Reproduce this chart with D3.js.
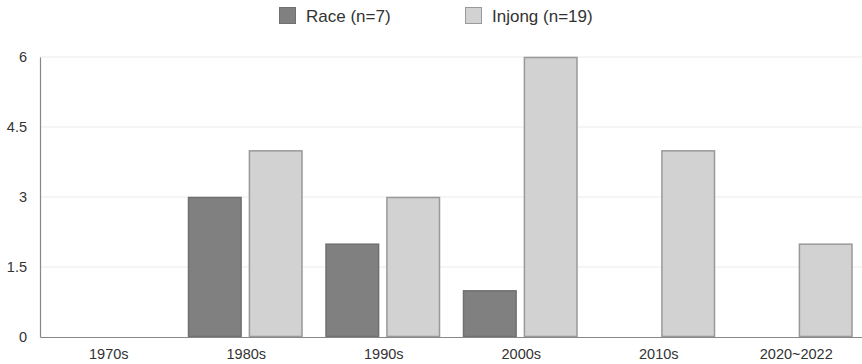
<!DOCTYPE html>
<html><head><meta charset="utf-8">
<script src="https://cdn.jsdelivr.net/npm/d3@7/dist/d3.min.js"></script>
<style>body{margin:0;background:#fff;}svg{display:block;font-family:"Liberation Sans",Arial,sans-serif;}</style>
</head><body><svg id="c" width="862" height="364"></svg>
<script>
const categories = ["1970s","1980s","1990s","2000s","2010s","2020~2022"];
const seriesNames = ["Race (n=7)","Injong (n=19)"];
const raceValues = [0,3,2,1,0,0];
const injongValues = [0,4,3,6,4,2];
const yTicks = [0,1.5,3,4.5,6];
const colors = ["#808080","#d2d2d2"];
const strokes = ["#707070","#999999"];

const svg = d3.select("#c");
const x0 = d3.scaleBand().domain(categories).range([40,865]).paddingInner(0).paddingOuter(0);
const x1 = d3.scaleBand().domain([0,1]).range([10.5, x0.bandwidth()-12.5]).paddingInner(0.12);
const y = d3.scaleLinear().domain([0,6]).range([337,57]);

// grid
svg.append("g").selectAll("line").data(yTicks.filter(d=>d>0)).join("line")
  .attr("x1",40).attr("x2",862).attr("y1",d=>y(d)).attr("y2",d=>y(d))
  .attr("stroke","#ebebeb").attr("stroke-width",1);

const series = [raceValues, injongValues];
const g = svg.append("g");
categories.forEach((c,i)=>{
  series.forEach((vals,s)=>{
    const v = vals[i];
    if(v<=0) return;
    g.append("rect")
      .attr("x", x0(c)+x1(s)+0.5).attr("y", y(v)+0.5)
      .attr("width", x1.bandwidth()-1).attr("height", y(0)-y(v)-1)
      .attr("fill", colors[s]).attr("stroke", strokes[s]).attr("stroke-width",1.5);
  });
});

// y axis
const ya = svg.append("g").attr("transform","translate(40,0)")
  .call(d3.axisLeft(y).tickValues(yTicks).tickSize(0).tickPadding(13).tickFormat(d=>d));
ya.select(".domain").attr("stroke","#888").attr("stroke-width",1.2);
ya.selectAll("text").attr("font-size",14.5).attr("fill","#333").attr("font-family","Liberation Sans, Arial, sans-serif");

// x axis
const xa = svg.append("g").attr("transform","translate(0,337)")
  .call(d3.axisBottom(x0).tickSize(0).tickPadding(12));
xa.select(".domain").attr("stroke","#888").attr("stroke-width",1.2);
xa.selectAll("text").attr("font-size",14.5).attr("fill","#333").attr("font-family","Liberation Sans, Arial, sans-serif");

// legend
const legX = [279, 465];
seriesNames.forEach((n,i)=>{
  svg.append("rect").attr("x",legX[i]+0.5).attr("y",7.5).attr("width",16).attr("height",16)
    .attr("fill",colors[i]).attr("stroke",strokes[i]).attr("stroke-width",1);
  svg.append("text").attr("x",legX[i]+27).attr("y",22).attr("font-size",17).attr("fill","#333").text(n);
});
</script></body></html>
